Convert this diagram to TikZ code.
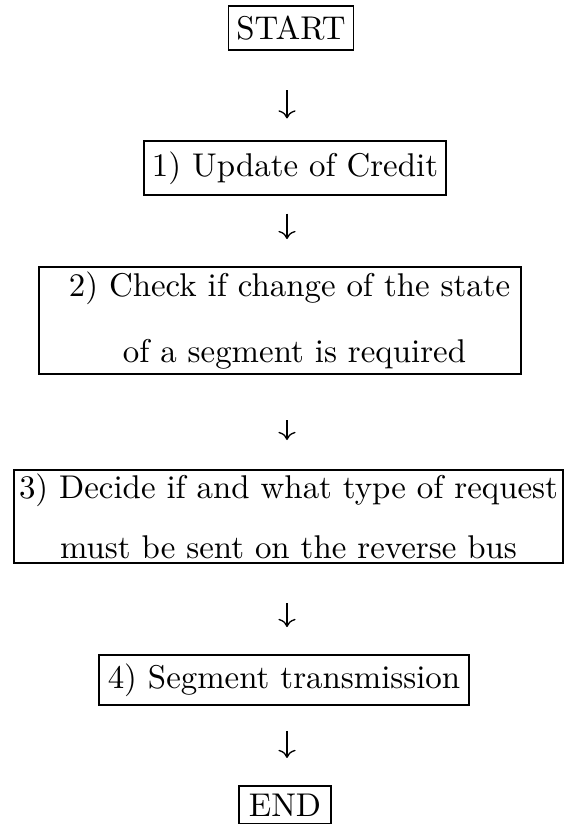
\documentclass[tikz,border=0pt]{standalone}
\usetikzlibrary{arrows.meta}
\begin{document}
\begin{tikzpicture}[x=0.304pt, y=-0.304pt, >={To},
    blk/.style={draw, line width=0.6pt, inner xsep=1pt, inner ysep=1pt, align=center},
    flow/.style={->, line width=0.4pt}]
    \useasboundingbox (0,0) rectangle (567,824);
    \coordinate (axis) at (287,0);
    \node[blk, minimum width=38pt, minimum height=13.4pt] (start) at (291,28) {START};
    \node[blk, minimum width=91.8pt, minimum height=16.7pt] (upd) at (295,168) {1) Update of Credit};
    \node[blk, minimum width=146.5pt, minimum height=32.5pt] (chk) at (280,320.5)
        {\hspace*{5.8pt}2) Check if change of the state\\[7.8pt] \hspace*{8.8pt}of a segment is required};
    \node[blk, minimum width=166.9pt, minimum height=28.3pt] (dec) at (288.5,516.5)
        {3) Decide if and what type of request\\[6.2pt] must be sent on the reverse bus};
    \node[blk, minimum width=112.3pt, minimum height=15.2pt] (seg) at (284,680) {4) Segment transmission};
    \node[blk, minimum width=27.7pt, minimum height=11.6pt] (fin) at (285,805) {END};
    \foreach \a/\b/\s/\e in {start/upd/11.9/6.4, upd/chk/5.2/8.2, chk/dec/13.7/8.8,
                             dec/seg/11.9/8.2, seg/fin/7.6/8.2}
        \draw[flow, shorten <=\s pt, shorten >=\e pt] (\a.south -| axis) -- (\b.north -| axis);
\end{tikzpicture}
\end{document}
